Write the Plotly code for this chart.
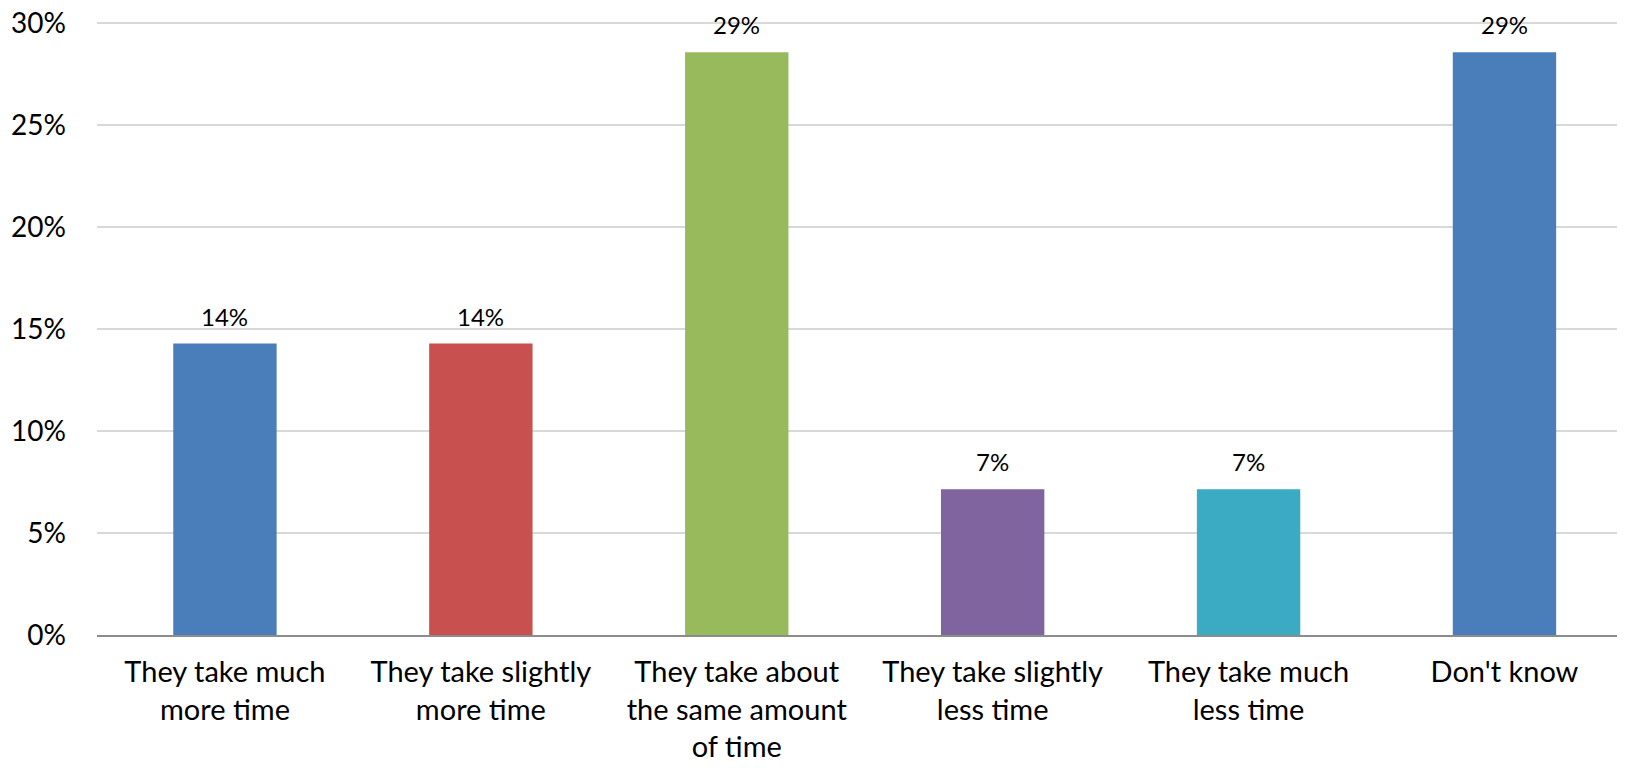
import plotly.graph_objects as go

categories = ["They take much<br>more time", "They take slightly<br>more time",
              "They take about<br>the same amount<br>of time", "They take slightly<br>less time",
              "They take much<br>less time", "Don't know"]
values = [2/14, 2/14, 4/14, 1/14, 1/14, 4/14]
labels = ["14%", "14%", "29%", "7%", "7%", "29%"]
colors = ["#4A7EBB", "#C8504F", "#98BA5C", "#8064A0", "#3BABC4", "#4A7EBB"]

fig = go.Figure(go.Bar(x=categories, y=values, marker_color=colors, marker_line_width=0, width=0.404))

for c, v, t in zip(categories, values, labels):
    fig.add_annotation(x=c, y=v, text=t, showarrow=False, yanchor="bottom", yshift=11,
                       font=dict(family="Lato", size=24, color="#000000"))

fig.update_layout(
    width=1617, height=760,
    margin=dict(l=89, r=0, t=13, b=133),
    plot_bgcolor="white", paper_bgcolor="white",
    showlegend=False,
    font=dict(family="Lato", color="#000000"),
)
fig.update_xaxes(range=[-0.5, 5.471], showline=True, linecolor="#8c8c8c", linewidth=2,
                 tickfont=dict(size=29), ticks="", ticklabelstandoff=10, automargin=False)
fig.update_yaxes(range=[0, 0.301], dtick=0.05, tickformat=".0%", showgrid=True, gridcolor="#d9d9d9",
                 gridwidth=2, zeroline=False, tickfont=dict(size=28), ticks="", ticklabelstandoff=30,
                 ticklabeloverflow="allow", automargin=False)

fig.write_html("out.html")
